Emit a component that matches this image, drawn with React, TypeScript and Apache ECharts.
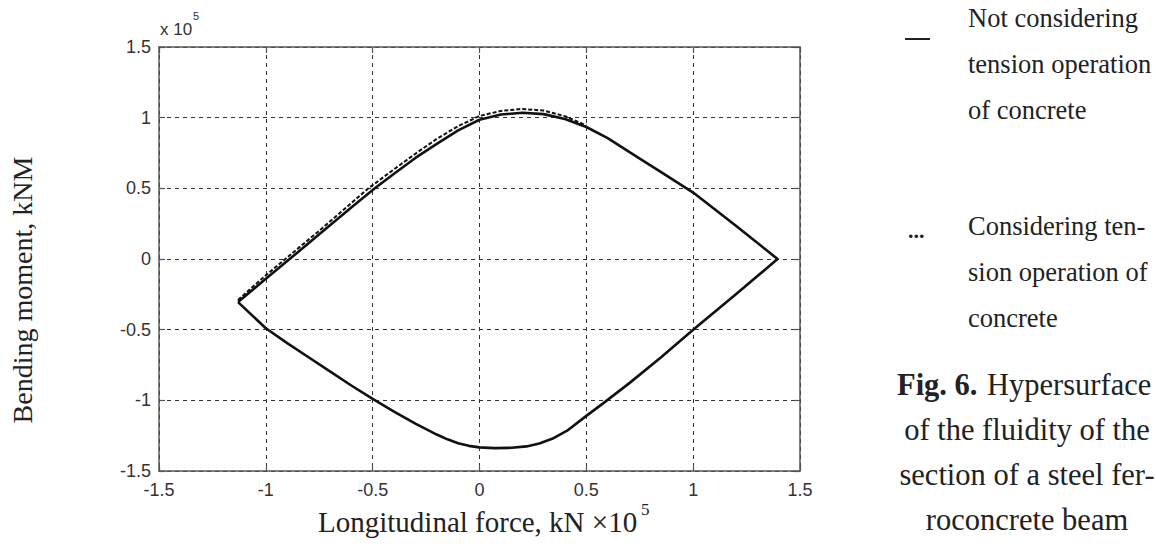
import React, { useEffect, useRef } from "react";
import * as echarts from "echarts";

// Axis ranges (×10^5)
const xMin = -1.5, xMax = 1.5, yMin = -1.5, yMax = 1.5, tickStep = 0.5;

// Not considering tension operation of concrete (closed loop: lower branch then upper branch)
const solidCurve: [number, number][] = [
  [-1.13, -0.305], [-1.0, -0.49], [-0.9, -0.595], [-0.8, -0.695], [-0.7, -0.795], [-0.6, -0.895],
  [-0.5, -0.99], [-0.4, -1.08], [-0.3, -1.165], [-0.2, -1.242], [-0.15, -1.276], [-0.1, -1.303],
  [-0.05, -1.322], [0, -1.333], [0.07, -1.338], [0.15, -1.336], [0.22, -1.326], [0.28, -1.305],
  [0.34, -1.272], [0.41, -1.215], [0.5, -1.11], [0.58, -1.02], [0.7, -0.88], [0.85, -0.695],
  [1.0, -0.5], [1.2, -0.25], [1.395, 0],
  [1.2, 0.235], [1.0, 0.47], [0.85, 0.615], [0.75, 0.71], [0.6, 0.855], [0.5, 0.934],
  [0.4, 0.99], [0.3, 1.025], [0.2, 1.035], [0.1, 1.022], [0, 0.985], [-0.1, 0.91],
  [-0.2, 0.815], [-0.3, 0.715], [-0.4, 0.603], [-0.49, 0.5], [-0.6, 0.365], [-0.75, 0.175],
  [-0.9, -0.015], [-1.0, -0.14], [-1.13, -0.305],
];

// Considering tension operation of concrete (upper-left part; the rest coincides with the solid curve)
const dashedCurve: [number, number][] = [
  [-1.13, -0.29], [-1.0, -0.115], [-0.75, 0.2], [-0.52, 0.5], [-0.4, 0.635], [-0.3, 0.745],
  [-0.2, 0.85], [-0.1, 0.94], [0, 1.012], [0.1, 1.048], [0.2, 1.062], [0.3, 1.05],
  [0.4, 1.01], [0.5, 0.945],
];

const legendLines1 = ["Not considering", "tension operation", "of concrete"];
const legendLines2 = ["Considering ten-", "sion operation of", "concrete"];
const captionLines = ["Hypersurface", "of the fluidity of the", "section of a steel fer-", "roconcrete beam"];

const serif = "'Liberation Serif', 'Times New Roman', serif";
const sans = "'Liberation Sans', Arial, sans-serif";

export default function App() {
  const ref = useRef<HTMLDivElement>(null);
  useEffect(() => {
    const chart = echarts.init(ref.current!, undefined, { renderer: "svg" });
    const axisLineStyle = { color: "#555", width: 1.5 };
    const tick = { show: true, inside: true, length: 6, lineStyle: { color: "#555", width: 1.2 } };
    const legendText: any[] = [];
    legendLines1.forEach((t, i) =>
      legendText.push({ type: "text", x: 968, y: 18 + i * 46, style: { text: t, font: `26.5px ${serif}`, fill: "#222", verticalAlign: "middle" } })
    );
    legendLines2.forEach((t, i) =>
      legendText.push({ type: "text", x: 968, y: 226 + i * 46, style: { text: t, font: `26.5px ${serif}`, fill: "#222", verticalAlign: "middle" } })
    );
    const caption: any[] = [
      { type: "text", x: 897, y: 385, style: { text: "Fig. 6.", font: `bold 30.5px ${serif}`, fill: "#222", verticalAlign: "middle" } },
      { type: "text", x: 987, y: 385, style: { text: captionLines[0], font: `30.5px ${serif}`, fill: "#222", verticalAlign: "middle" } },
    ];
    captionLines.slice(1).forEach((t, i) =>
      caption.push({ type: "text", x: 1027, y: 430 + i * 45, style: { text: t, font: `30.5px ${serif}`, fill: "#222", textAlign: "center", verticalAlign: "middle" } })
    );
    chart.setOption({
      animation: false,
      grid: { left: 159, right: 356, top: 47, bottom: 81 },
      xAxis: [
        {
          type: "value", min: xMin, max: xMax, interval: tickStep,
          axisLine: { show: true, onZero: false, lineStyle: axisLineStyle },
          axisTick: tick,
          axisLabel: { fontSize: 18, fontFamily: sans, color: "#333", margin: 10 },
          splitLine: { show: true, lineStyle: { type: [4, 4], color: "#333", width: 1 } },
        },
        {
          type: "value", position: "top", min: xMin, max: xMax, interval: tickStep,
          axisLine: { show: true, onZero: false, lineStyle: axisLineStyle },
          axisTick: tick, axisLabel: { show: false }, splitLine: { show: false },
        },
      ],
      yAxis: [
        {
          type: "value", min: yMin, max: yMax, interval: tickStep,
          axisLine: { show: true, onZero: false, lineStyle: axisLineStyle },
          axisTick: tick,
          axisLabel: { fontSize: 18, fontFamily: sans, color: "#333", margin: 8 },
          splitLine: { show: true, lineStyle: { type: [4, 4], color: "#333", width: 1 } },
        },
        {
          type: "value", position: "right", min: yMin, max: yMax, interval: tickStep,
          axisLine: { show: true, onZero: false, lineStyle: axisLineStyle },
          axisTick: tick, axisLabel: { show: false }, splitLine: { show: false },
        },
      ],
      series: [
        {
          type: "line", data: solidCurve, showSymbol: false, symbol: "none",
          lineStyle: { color: "#111", width: 2.6, join: "round" }, z: 3,
        },
        {
          type: "line", data: dashedCurve, showSymbol: false, symbol: "none",
          lineStyle: { color: "#111", width: 2, type: [4, 2] }, z: 4,
        },
      ],
      graphic: [
        { type: "text", x: 160, y: 29, style: { text: "x 10", font: `17px ${sans}`, fill: "#333", verticalAlign: "middle" } },
        { type: "text", x: 193, y: 16, style: { text: "5", font: `11px ${sans}`, fill: "#333", verticalAlign: "middle" } },
        {
          type: "text", x: 22, y: 290, rotation: Math.PI / 2,
          style: { text: "Bending moment, kNM", font: `28px ${serif}`, fill: "#222", textAlign: "center", verticalAlign: "middle" },
        },
        { type: "text", x: 318, y: 522, style: { text: "Longitudinal force, kN ×10", font: `29px ${serif}`, fill: "#222", verticalAlign: "middle" } },
        { type: "text", x: 641, y: 509, style: { text: "5", font: `17px ${serif}`, fill: "#222", verticalAlign: "middle" } },
        { type: "line", shape: { x1: 905, y1: 39, x2: 930, y2: 39 }, style: { stroke: "#222", lineWidth: 2 } },
        { type: "text", x: 908, y: 230, style: { text: "...", font: `bold 22px ${serif}`, fill: "#222", verticalAlign: "middle" } },
        ...legendText,
        ...caption,
      ],
    });
    return () => chart.dispose();
  }, []);
  return <div ref={ref} style={{ position: "fixed", left: 0, top: 0, width: 1156, height: 552, background: "#fff" }} />;
}
